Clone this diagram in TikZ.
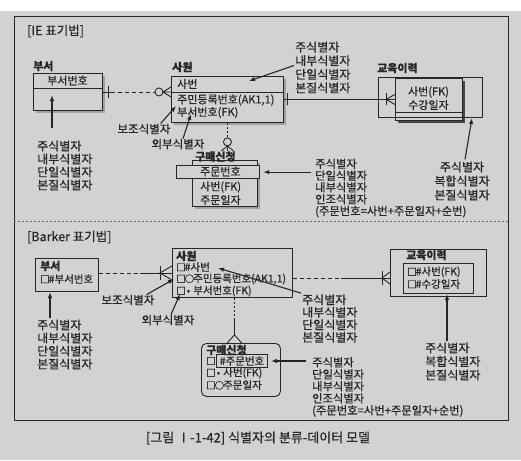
\documentclass[tikz,border=0pt]{standalone}
\usepackage{fontspec}
\setmainfont{Noto Sans CJK KR}[FakeBold=0.6]
\usetikzlibrary{arrows.meta,shadows,calc}
\definecolor{paper}{HTML}{D2D2D0}
\definecolor{ink}{HTML}{262626}
\definecolor{shadowgray}{HTML}{A2A2A0}
% narrow markers used in the Barker attribute lists
\newcommand\attrbox{\makebox[8.5pt][l]{\fontsize{9.5}{9.5}\selectfont □}}
\newcommand\attrring{\makebox[8.5pt][l]{\fontsize{9.5}{9.5}\selectfont ○}}
\newcommand\attrdot{\hspace{2pt}•\hspace{3pt}}
\tikzset{
  txt/.style={inner sep=0pt, text=ink, font=\fontsize{11}{12}\selectfont},
  item/.style={txt, anchor=west},
  bitem/.style={txt, anchor=west, font=\fontsize{10.5}{12}\selectfont},
  title/.style={txt, anchor=west, font=\bfseries\fontsize{11}{12}\selectfont},
  head/.style={txt, anchor=west, font=\fontsize{12.5}{13}\selectfont},
  note/.style={txt, anchor=west, align=left, font=\fontsize{12}{13}\selectfont},
  smallnote/.style={txt, anchor=west, align=left, font=\fontsize{11.3}{11.8}\selectfont},
  tag/.style={txt, font=\fontsize{11.5}{12}\selectfont},
  entity/.style={draw=ink, line width=0.9pt, fill=paper, anchor=north west, inner sep=0pt},
  shadowed/.style={drop shadow={shadow xshift=3pt, shadow yshift=-3pt, fill=shadowgray, opacity=1}},
  rel/.style={draw=ink, line width=0.9pt},
  reldash/.style={rel, dash pattern=on 4pt off 3pt},
  reldot/.style={rel, dash pattern=on 2pt off 2pt},
  ptr/.style={draw=ink, line width=1.1pt, -{Latex[length=6pt,width=4.5pt]}},
}
\begin{document}
\begin{tikzpicture}[x=1pt,y=-1pt]
% page and frame
\fill[white] (0,0) rectangle (521,460);
\fill[paper] (0,11) rectangle (521,460);
\useasboundingbox (0,0) rectangle (521,460);
\draw[ink, line width=0.8pt] (14,16) rectangle (508,420);
\draw[ink!70, line width=0.5pt, dash pattern=on 2pt off 2pt] (14,221) -- (508,221);

% ===================== IE notation =====================
\node[head] (ieHead) at (27,31) {[IE 표기법]};

% 부서
\node[title] (ieDeptName) at (33,66) {부서};
\node[entity, shadowed, minimum width=69, minimum height=37] (ieDept) at (33,73) {};
\draw[rel] ($(ieDept.north west)+(0,15)$) -- ($(ieDept.north east)+(0,15)$);
\node[txt] (ieDeptKey) at (67.5,80.5) {부서번호};

% 사원
\node[title] (ieEmpName) at (172,67) {사원};
\node[entity, shadowed, minimum width=112, minimum height=46] (ieEmp) at (171,76) {};
\draw[rel] ($(ieEmp.north west)+(0,16)$) -- ($(ieEmp.north east)+(0,16)$);
\node[item] (ieEmpKey) at (177,84) {사번};
\node[item] (ieEmpAk) at (177,100) {주민등록번호(AK1,1)};
\node[item] (ieEmpFk) at (177,112.5) {부서번호(FK)};

% 교육이력 (dependent entity)
\node[title] (ieEduName) at (377,68) {교육이력};
\node[entity, minimum width=67, minimum height=42,
      drop shadow={shadow xshift=3pt, shadow yshift=-3pt, fill=ink!85, opacity=1}] (ieEduIn) at (395,78) {};
\draw[rel] ($(ieEduIn.north west)+(0,34)$) -- ($(ieEduIn.north east)+(0,34)$);
\node[entity, fill=none, line width=1.4pt, minimum width=104, minimum height=40] (ieEdu) at (378,77) {};
\node[txt] (ieEduK1) at (428.5,92) {사번(FK)};
\node[txt] (ieEduK2) at (428.5,105) {수강일자};

% 구매신청
\node[entity, shadowed, minimum width=65, minimum height=46] (ieBuy) at (192,160) {};
\node[title] (ieBuyName) at (195,156.5) {구매신청};
\node[entity, line width=1.2pt, minimum width=83, minimum height=13] (ieBuyKeyBox) at (176,165) {};
\node[item] (ieBuyKey) at (200,171.5) {주문번호};
\node[item] (ieBuyFk) at (200,187) {사번(FK)};
\node[item] (ieBuyDate) at (200,200) {주문일자};

% 부서 -- 사원
\coordinate (ieR1) at (ieEmp.west |- ieDept.east);
\draw[rel] (ieDept.east) -- ++(8,0);
\draw[rel] ($(ieDept.east)+(6,-6)$) -- ++(0,12);
\draw[reldash] ($(ieDept.east)+(8,0)$) -- ($(ieR1)+(-16,0)$);
\draw[rel] ($(ieR1)+(-12,0)$) circle[radius=4pt];
\draw[rel] ($(ieR1)+(0,-5)$) -- ($(ieR1)+(-8,0)$) -- ($(ieR1)+(0,5)$)
           ($(ieR1)+(-8,0)$) -- (ieR1);

% 사원 -- 교육이력
\coordinate (ieR2) at (ieEduIn.west);
\draw[rel] (ieEmp.east) -- (ieR2);
\draw[rel] ($(ieEmp.east)+(4,-6)$) -- ++(0,12);
\draw[rel] ($(ieR2)+(-9,-6)$) -- ++(0,12);
\draw[rel] ($(ieR2)+(0,-5)$) -- ($(ieR2)+(-9,0)$) -- ($(ieR2)+(0,5)$);

% 사원 -- 구매신청
\coordinate (ieR3) at (ieEmp.south);
\draw[reldot] (ieR3) -- ++(0,15);
\draw[rel] ($(ieR3)+(0,19)$) circle[radius=4pt];
\draw[rel] ($(ieR3)+(-6,28)$) -- ($(ieR3)+(0,23)$) -- ($(ieR3)+(6,28)$)
           ($(ieR3)+(0,23)$) -- ($(ieR3)+(0,28)$);

% annotations
\node[note] (ieDeptNote) at (37,165.5) {주식별자\\내부식별자\\단일식별자\\본질식별자};
\coordinate (ieDeptTip) at (52,95);
\draw[ptr] ($(ieDeptNote.north west)+(15,-12)$) -- (ieDeptTip);

\node[note, font=\fontsize{12}{13.6}\selectfont] (ieEmpNote) at (295,67.5) {주식별자\\내부식별자\\단일식별자\\본질식별자};
\coordinate (ieEmpTip) at (249,81);
\draw[ptr] ($(ieEmpNote.west)+(-1,-2)$) -- (ieEmpTip);

\node[note, align=center, anchor=center, font=\fontsize{12}{14}\selectfont] (ieEduNote) at (462,181) {주식별자\\복합식별자\\본질식별자};
\coordinate (ieEduTip) at (472,118);
\draw[ptr] ($(ieEduNote.north)+(3,-2)$) -- (ieEduTip);

\node[tag] (ieAltNote) at (144,129) {보조식별자};
\coordinate (ieAltTip) at (176,106);
\draw[ptr] ($(ieAltNote.north east)+(-10,0)$) -- (ieAltTip);

\node[tag] (ieFkNote) at (178,144) {외부식별자};
\coordinate (ieFkTip) at (191,114);
\draw[ptr] ($(ieFkNote.north)+(5,0)$) -- (ieFkTip);

\node[smallnote] (ieBuyNote) at (315,188) {주식별자\\단일식별자\\내부식별자\\인조식별자\\(주문번호=사번+주문일자+순번)};
\draw[ptr] (ieBuyNote.west |- ieBuyKeyBox.east) ++(-4,0) -- ($(ieBuyKeyBox.east)+(3,0)$);

% ===================== Barker notation =====================
\node[head] (bHead) at (27,237) {[Barker 표기법]};

% 부서
\node[entity, minimum width=63, minimum height=33] (bDept) at (35,258) {};
\node[title] (bDeptName) at (40,266) {부서};
\node[bitem] (bDeptKey) at (40,279) {\attrbox\#부서번호};

% 사원
\node[entity, minimum width=120, minimum height=49] (bEmp) at (172,248) {};
\node[title] (bEmpName) at (176,256) {사원};
\node[bitem] (bEmpKey) at (176,267) {\attrbox\#사번};
\node[bitem] (bEmpAk) at (176,279) {\attrbox\attrring 주민등록번호(AK1,1)};
\node[bitem] (bEmpFk) at (176,291) {\attrbox\attrdot 부서번호(FK)};

% 교육이력
\node[entity, minimum width=96, minimum height=47] (bEdu) at (390,249) {};
\node[title] (bEduName) at (406,255) {교육이력};
\node[entity, minimum width=70, minimum height=30] (bEduIn) at (403,263) {};
\node[bitem] (bEduK1) at (407,272) {\attrbox\#사번(FK)};
\node[bitem] (bEduK2) at (407,284) {\attrbox\#수강일자};

% 구매신청
\node[entity, rounded corners=5pt, minimum width=79, minimum height=53] (bBuy) at (201,343) {};
\node[title] (bBuyName) at (206,350) {구매신청};
\node[bitem] (bBuyMark) at (206,361) {\attrbox};
\node[bitem, draw=ink, line width=1pt, inner sep=1.5pt, minimum width=51, minimum height=12] (bBuyKey) at (216,361) {\#주문번호};
\node[bitem] (bBuyFk) at (206,373) {\attrbox\attrdot 사번(FK)};
\node[bitem] (bBuyDate) at (206,385) {\attrbox\attrring 주문일자};

% 부서 -- 사원
\coordinate (bR1) at (bEmp.west);
\draw[reldash] (bDept.east |- bR1) -- ($(bR1)+(-32,0)$);
\draw[rel] ($(bR1)+(-32,0)$) -- (bR1);
\draw[rel] ($(bR1)+(-12,-7)$) -- ++(0,14);
\draw[rel] ($(bR1)+(0,-7)$) -- ($(bR1)+(-12,0)$) -- ($(bR1)+(0,7)$);

% 사원 -- 교육이력
\coordinate (bR2) at ($(bEmp.east)+(0,5)$);
\coordinate (bR2e) at (bEdu.west |- bR2);
\draw[reldash] (bR2) -- ($(bR2)+(48,0)$);
\draw[rel] ($(bR2)+(48,0)$) -- (bR2e);
\draw[rel] ($(bR2e)+(-8,-7)$) -- ++(0,14);
\draw[rel] ($(bR2e)+(0,-6)$) -- ($(bR2e)+(-8,0)$) -- ($(bR2e)+(0,6)$);

% 사원 -- 구매신청
\coordinate (bR3) at ($(bEmp.south)+(2,0)$);
\draw[reldot] (bR3) -- ++(0,21);
\draw[rel] ($(bR3)+(0,21)$) -- ($(bR3)+(0,37)$);
\draw[rel] ($(bR3)+(-8,46)$) -- ($(bR3)+(0,37)$) -- ($(bR3)+(8,46)$);

% annotations
\node[note] (bDeptNote) at (37,344.5) {주식별자\\내부식별자\\단일식별자\\본질식별자};
\coordinate (bDeptTip) at (50,292);
\draw[ptr] (bDeptTip |- bDeptNote.north) ++(0,-1) -- (bDeptTip);

\node[note, font=\fontsize{12}{12.5}\selectfont] (bEmpNote) at (302,318.5) {주식별자\\내부식별자\\단일식별자\\본질식별자};
\coordinate (bEmpTip) at (218,268);
\draw[ptr] ($(bEmpNote.north west)+(-1,-1)$) -- (bEmpTip);

\node[note, font=\fontsize{12}{13.5}\selectfont] (bEduNote) at (425,361.5) {주식별자\\복합식별자\\본질식별자};
\coordinate (bEduTip) at (447,294);
\draw[ptr] (bEduTip |- bEduNote.north) ++(0,-1) -- (bEduTip);

\node[tag] (bAltNote) at (128,300) {보조식별자};
\coordinate (bAltTip) at (174,279);
\draw[ptr] ($(bAltNote.north east)+(-8,0)$) -- (bAltTip);

\node[tag] (bFkNote) at (168,320) {외부식별자};
\coordinate (bFkTip) at (180,294);
\draw[ptr] ($(bFkNote.north)+(3,0)$) -- (bFkTip);

\node[smallnote, font=\fontsize{11.3}{12}\selectfont] (bBuyNote) at (312,387) {주식별자\\단일식별자\\내부식별자\\인조식별자\\(주문번호=사번+주문일자+순번)};
\draw[ptr] (bBuyNote.west |- bBuyKey.east) ++(-6,0) -- ($(bBuyKey.east)+(3,0)$);

% caption
\node[txt, font=\fontsize{13}{14}\selectfont] (caption) at (258,438) {[그림 Ⅰ-1-42] 식별자의 분류-데이터 모델};
\end{tikzpicture}
\end{document}
